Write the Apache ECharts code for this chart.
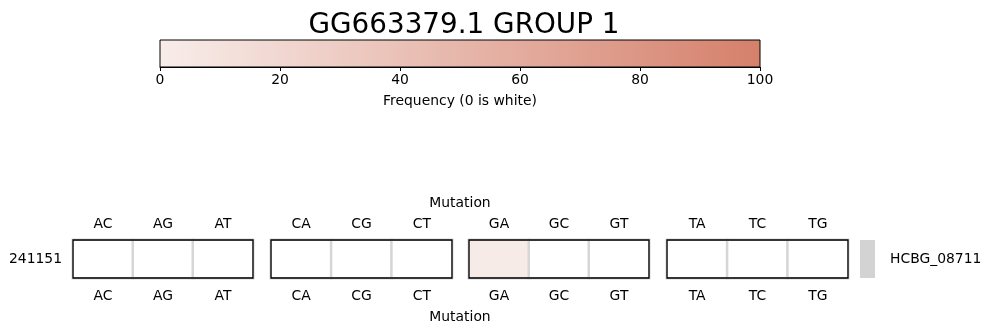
<!DOCTYPE html>
<html>
<head>
<meta charset="utf-8">
<script src="https://cdn.jsdelivr.net/npm/echarts@6/dist/echarts.min.js"></script>
<style>
  html, body { margin: 0; padding: 0; background: #fff; }
  #chart { width: 991px; height: 335px; }
</style>
</head>
<body>
<div id="chart"></div>
<script>
// Substitution types, grouped by reference base
const mutationGroups = [
  ['AC', 'AG', 'AT'],
  ['CA', 'CG', 'CT'],
  ['GA', 'GC', 'GT'],
  ['TA', 'TC', 'TG']
];
// Frequency (%) of each substitution for the single position, per group
const frequencies = [
  [0, 0, 0],
  [0, 0, 0],
  [2, 0, 0],
  [0, 0, 0]
];
const positionLabels = ['241151'];
const geneLabels = ['HCBG_08711'];
const colorbarTicks = [0, 20, 40, 60, 80, 100];

const chartTitle = 'GG663379.1 GROUP 1';
const colorbarTitle = 'Frequency (0 is white)';
const axisTitle = 'Mutation';

const FONT = 'DejaVu Sans';
const FS = 13.9;
const LOW = '#f8edea';
const HIGH = '#d5806b';

const chart = echarts.init(document.getElementById('chart'), null, { renderer: 'canvas' });

const blockLeft = [73, 271, 469, 667];
const blockWidth = [180, 181, 180, 181];
const blockTop = 240, blockH = 38;

const grids = [
  { left: 160, top: 40, width: 600, height: 27, show: true, borderColor: '#000', borderWidth: 1, z: 10 }
];
const xAxes = [
  {
    type: 'value', gridIndex: 0, min: colorbarTicks[0], max: colorbarTicks[colorbarTicks.length - 1],
    interval: colorbarTicks[1] - colorbarTicks[0], position: 'bottom',
    axisLine: { show: true, lineStyle: { color: '#000', width: 1 } },
    axisTick: { show: true, length: 4, lineStyle: { color: '#000' } },
    axisLabel: { fontSize: FS, color: '#000', fontFamily: FONT, margin: 6 },
    splitLine: { show: false },
    name: colorbarTitle, nameLocation: 'middle', nameGap: 27,
    nameTextStyle: { fontSize: FS, color: '#000', fontFamily: FONT },
    z: 11
  }
];
const yAxes = [
  { type: 'category', gridIndex: 0, data: [''], show: false }
];
const series = [
  {
    type: 'bar', xAxisIndex: 0, yAxisIndex: 0, data: [colorbarTicks[colorbarTicks.length - 1]],
    barWidth: '100%', silent: true,
    itemStyle: {
      color: { type: 'linear', x: 0, y: 0, x2: 1, y2: 0,
        colorStops: [{ offset: 0, color: LOW }, { offset: 1, color: HIGH }] }
    }
  }
];

const labelStyle = { fontSize: FS, color: '#000', fontFamily: FONT };

mutationGroups.forEach((group, b) => {
  const gi = grids.length;
  grids.push({ left: blockLeft[b], top: blockTop, width: blockWidth[b], height: blockH,
    show: true, borderColor: '#000', borderWidth: 1.3, z: 10 });
  const xb = xAxes.length;
  xAxes.push({
    type: 'category', gridIndex: gi, data: group, position: 'bottom',
    axisLine: { show: false }, axisTick: { show: false }, splitLine: { show: false },
    axisLabel: Object.assign({ margin: 11 }, labelStyle)
  });
  xAxes.push({
    type: 'category', gridIndex: gi, data: group, position: 'top',
    axisLine: { show: false }, axisTick: { show: false }, splitLine: { show: false },
    axisLabel: Object.assign({ margin: 9 }, labelStyle)
  });
  const yi = yAxes.length;
  yAxes.push({
    type: 'category', gridIndex: gi, data: positionLabels, position: 'left',
    axisLine: { show: false }, axisTick: { show: false }, splitLine: { show: false },
    axisLabel: Object.assign({ show: b === 0, margin: 11 }, labelStyle)
  });
  series.push({
    type: 'heatmap', xAxisIndex: xb, yAxisIndex: yi, silent: true,
    data: group.map((m, i) => [i, 0, frequencies[b][i]]),
    itemStyle: { borderColor: '#d6d6d6', borderWidth: 2.5 }
  });
});

// Gene annotation strip on the right
const ag = grids.length;
grids.push({ left: 860, top: blockTop, width: 15, height: blockH });
const ax = xAxes.length;
xAxes.push({ type: 'value', gridIndex: ag, min: 0, max: 1, show: false });
const ay = yAxes.length;
yAxes.push({
  type: 'category', gridIndex: ag, data: geneLabels, position: 'right',
  axisLine: { show: false }, axisTick: { show: false }, splitLine: { show: false },
  axisLabel: Object.assign({ margin: 15 }, labelStyle)
});
series.push({
  type: 'bar', xAxisIndex: ax, yAxisIndex: ay, data: [1], barWidth: '100%', silent: true,
  itemStyle: { color: '#d3d3d3' }
});

const option = {
  animation: false,
  backgroundColor: '#fff',
  textStyle: { fontFamily: FONT },
  title: {
    text: chartTitle, left: 459, top: 7, textAlign: 'center',
    textStyle: { fontSize: 27.8, fontWeight: 'normal', color: '#000', fontFamily: FONT }
  },
  grid: grids,
  xAxis: xAxes,
  yAxis: yAxes,
  visualMap: {
    show: false, type: 'continuous', min: 0, max: 100, range: [0.5, 100],
    seriesIndex: [1, 2, 3, 4],
    inRange: { color: [LOW, HIGH] },
    outOfRange: { color: '#ffffff' }
  },
  graphic: [
    { type: 'text', x: 460, y: 203, style: { text: axisTitle, fontSize: FS, fontFamily: FONT, fill: '#000', align: 'center', verticalAlign: 'middle' } },
    { type: 'text', x: 460, y: 317, style: { text: axisTitle, fontSize: FS, fontFamily: FONT, fill: '#000', align: 'center', verticalAlign: 'middle' } }
  ],
  series: series
};
chart.setOption(option);
</script>
</body>
</html>
